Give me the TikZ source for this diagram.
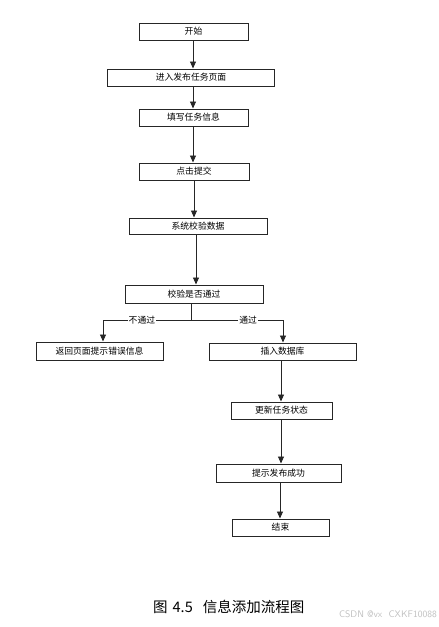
\documentclass[tikz,border=0pt]{standalone}
\usepackage{fontspec}
\newfontfamily\cjk{Noto Sans CJK SC}
\usetikzlibrary{arrows.meta}
\begin{document}
\begin{tikzpicture}[x=1pt,y=-1pt,
  box/.style={draw=black!85,line width=1pt,inner sep=0pt,font=\cjk\fontsize{8.8}{9}\selectfont},
  arr/.style={draw=black!85,line width=0.9pt,-{Triangle[length=7pt,width=6pt]}},
  lbl/.style={fill=white,inner sep=1pt,font=\cjk\fontsize{8.8}{9}\selectfont}]
\useasboundingbox (0,0) rectangle (439,627);
\node[box,minimum width=109pt,minimum height=17pt] (n1) at (193.5,31.5) {开始};
\node[box,minimum width=167pt,minimum height=17pt] (n2) at (191,77.5) {进入发布任务页面};
\node[box,minimum width=109pt,minimum height=17pt] (n3) at (193.5,117.5) {填写任务信息};
\node[box,minimum width=110pt,minimum height=17pt] (n4) at (194,171.5) {点击提交};
\node[box,minimum width=138pt,minimum height=16pt] (n5) at (198,226) {系统校验数据};
\node[box,minimum width=138pt,minimum height=18pt] (n6) at (194,294) {校验是否通过};
\node[box,minimum width=127pt,minimum height=18pt] (n7) at (99.5,351) {返回页面提示错误信息};
\node[box,minimum width=147pt,minimum height=17pt] (n8) at (282.5,351.5) {插入数据库};
\node[box,minimum width=101pt,minimum height=17pt] (n9) at (281.5,410.5) {更新任务状态};
\node[box,minimum width=125pt,minimum height=18pt] (n10) at (278.5,473) {提示发布成功};
\node[box,minimum width=97pt,minimum height=17pt] (n11) at (280.5,527.5) {结束};

\draw[arr] (193,0 |- n1.south) -- (193,0 |- n2.north);
\draw[arr] (193,0 |- n2.south) -- (193,0 |- n3.north);
\draw[arr] (193,0 |- n3.south) -- (193,0 |- n4.north);
\draw[arr] (194,0 |- n4.south) -- (194,0 |- n5.north);
\draw[arr] (196,0 |- n5.south) -- (196,0 |- n6.north);

\coordinate (j) at (191.5,320);
\coordinate (jl) at (103,320);
\coordinate (jr) at (283,320);
\draw[draw=black!85,line width=0.9pt] (191.5,0 |- n6.south) -- (j);
\draw[arr] (j) -- node[lbl,pos=0.56]{不通过} (jl) -- (jl |- n7.north);
\draw[arr] (j) -- node[lbl,pos=0.62]{通过} (jr) -- (jr |- n8.north);

\draw[arr] (281,0 |- n8.south) -- (281,0 |- n9.north);
\draw[arr] (281,0 |- n9.south) -- (281,0 |- n10.north);
\draw[arr] (280,0 |- n10.south) -- (280,0 |- n11.north);

\node[font=\cjk\fontsize{14.5}{15}\selectfont,anchor=west,inner sep=0pt] (cap) at (153,607) {图\hspace{5pt}4.5\hspace{10pt}信息添加流程图};
\node[font=\fontsize{9.5}{10}\sffamily,text=black!25,anchor=east,inner sep=0pt] (wm) at (437,614) {CSDN @vx\ \ CXKF10088};
\end{tikzpicture}
\end{document}
